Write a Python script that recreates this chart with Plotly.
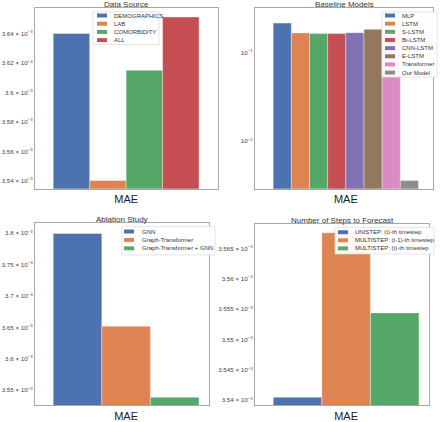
import plotly.graph_objects as go

W, H = 440, 422

# ---- data ----
metric = ["MAE"]

ds_names = ["DEMOGRAPHICS", "LAB", "COMORBIDITY", "ALL"]
ds_values = [3.640e-3, 3.5402e-3, 3.615e-3, 3.6512e-3]
ds_ticks = [3.54e-3, 3.56e-3, 3.58e-3, 3.60e-3, 3.62e-3, 3.64e-3]
ds_ticklabels = ["3.54", "3.56", "3.58", "3.6", "3.62", "3.64"]

bl_names = ["MLP", "LSTM", "S-LSTM", "Bi-LSTM", "CNN-LSTM", "E-LSTM", "Transformer", "Our Model"]
bl_values = [0.214, 0.166, 0.163, 0.163, 0.167, 0.182, 0.165, 0.00358]
bl_ticks = [0.01, 0.1]
bl_ticklabels = ["10<sup>−2</sup>", "10<sup>−1</sup>"]

ab_names = ["GNN", "Graph-Transformer", "Graph-Transformer + GNN"]
ab_values = [3.7995e-3, 3.652e-3, 3.539e-3]
ab_ticks = [3.55e-3, 3.60e-3, 3.65e-3, 3.70e-3, 3.75e-3, 3.80e-3]
ab_ticklabels = ["3.55", "3.6", "3.65", "3.7", "3.75", "3.8"]

st_names = ["UNISTEP: (t)-th timestep", "MULTISTEP: (t-1)-th timestep", "MULTISTEP: (t)-th timestep"]
st_values = [3.5405e-3, 3.5676e-3, 3.5544e-3]
st_ticks = [3.540e-3, 3.545e-3, 3.550e-3, 3.555e-3, 3.560e-3, 3.565e-3]
st_ticklabels = ["3.54", "3.545", "3.55", "3.555", "3.56", "3.565"]

colors = ["#4C72B0", "#DD8452", "#55A868", "#C44E52", "#8172B3", "#937860", "#DA8BC3", "#8C8C8C"]

titles = ["Data Source", "Baseline Models", "Ablation Study", "Number of Steps to Forecast"]

FONT = "Liberation Sans, Arial, sans-serif"


def px(x):
    return x / W


def py(y):
    return 1 - y / H


fig = go.Figure()

# panel geometry in pixels: (x0, x1, y0(top), y1(bottom))
panels = [
    (35, 218, 8, 191),
    (255, 433, 8, 191),
    (35, 209, 226, 410),
    (255, 429, 227, 410),
]
yranges = [
    [3.5346e-3, 3.6574e-3],
    [-2.538, -0.498],
    [3.5264e-3, 3.8157e-3],
    [3.5392e-3, 3.569e-3],
]
xranges = [[-0.5, 0.504], [-0.5, 0.48], [-0.5, 0.455], [-0.5, 0.455]]

datasets = [
    (ds_names, ds_values, ds_ticks, [t + " × 10<sup>−3</sup>" for t in ds_ticklabels], False),
    (bl_names, bl_values, bl_ticks, bl_ticklabels, True),
    (ab_names, ab_values, ab_ticks, [t + " × 10<sup>−3</sup>" for t in ab_ticklabels], False),
    (st_names, st_values, st_ticks, [t + " × 10<sup>−3</sup>" for t in st_ticklabels], False),
]

layout = dict(
    width=W, height=H, margin=dict(l=0, r=0, t=0, b=0),
    paper_bgcolor="white", plot_bgcolor="white",
    barmode="group", bargap=0.2, bargroupgap=0,
    showlegend=False, hovermode=False,
    font=dict(family=FONT, color="#333333"),
)

shapes = []
annotations = []

for i, ((x0, x1, y0, y1), (names, vals, tv, tt, islog)) in enumerate(zip(panels, datasets)):
    n = i + 1
    xa = "x" if n == 1 else f"x{n}"
    ya = "y" if n == 1 else f"y{n}"
    for j, (nm, v) in enumerate(zip(names, vals)):
        fig.add_trace(go.Bar(
            x=metric, y=[v], name=nm, xaxis=xa, yaxis=ya,
            marker=dict(color=colors[j], line=dict(color="rgba(255,255,255,0.6)", width=0.6)),
            offsetgroup=str(j), hoverinfo="skip",
        ))
    layout["xaxis" if n == 1 else f"xaxis{n}"] = dict(
        domain=[px(x0), px(x1)], anchor=ya, range=xranges[i],
        showgrid=False, zeroline=False, showline=True, mirror=True,
        linecolor="#a8a8a8", linewidth=1.2, ticks="",
        tickfont=dict(size=11, color="#222222"),
    )
    layout["yaxis" if n == 1 else f"yaxis{n}"] = dict(
        domain=[py(y1), py(y0)], anchor=xa, range=yranges[i],
        type="log" if islog else "linear",
        tickvals=tv, ticktext=tt,
        showgrid=False, zeroline=False, showline=True, mirror=True,
        linecolor="#a8a8a8", linewidth=1.2, ticks="", ticklen=0,
        tickfont=dict(size=6.2, color="#444444"),
    )
    annotations.append(dict(
        text=titles[i], xref="paper", yref="paper",
        x=px((x0 + x1) / 2), y=py(y0 - 3.5), xanchor="center", yanchor="middle",
        showarrow=False, font=dict(size=8, color="#333333"),
    ))

# ---- legends (drawn as boxes + swatches + text) ----
legends = [
    # box x0, x1, y0, y1, swatch x0, text x, first item y, spacing
    (93, 159, 12, 45, 97, 112, 15.7, 8.3),
    (382, 437, 12, 78, 385, 400, 15.7, 8.25),
    (122, 215, 229, 258, 124, 140, 234.3, 8.5),
    (335, 434, 230, 257, 338, 353, 235.0, 8.2),
]
for (names, *_), (bx0, bx1, by0, by1, sx, tx, fy, sp) in zip(datasets, legends):
    shapes.append(dict(
        type="rect", xref="paper", yref="paper",
        x0=px(bx0), x1=px(bx1), y0=py(by1), y1=py(by0),
        fillcolor="rgba(255,255,255,0.93)", line=dict(color="#dddddd", width=0.8), layer="above",
    ))
    for j, nm in enumerate(names):
        yc = fy + j * sp
        shapes.append(dict(
            type="rect", xref="paper", yref="paper",
            x0=px(sx), x1=px(sx + 10), y0=py(yc + 2), y1=py(yc - 2),
            fillcolor=colors[j], line=dict(width=0), layer="above",
        ))
        annotations.append(dict(
            text=nm, xref="paper", yref="paper", x=px(tx), y=py(yc),
            xanchor="left", yanchor="middle", showarrow=False,
            font=dict(size=6, color="#333333"),
        ))

layout["shapes"] = shapes
layout["annotations"] = annotations
fig.update_layout(**layout)
fig.write_html("out.html", config={"staticPlot": True, "displayModeBar": False})

with open("out.html", "r", encoding="utf-8") as f:
    html = f.read()
html = html.replace("<head>", "<head><style>html,body{margin:0;padding:0;overflow:hidden;}</style>", 1)
with open("out.html", "w", encoding="utf-8") as f:
    f.write(html)
